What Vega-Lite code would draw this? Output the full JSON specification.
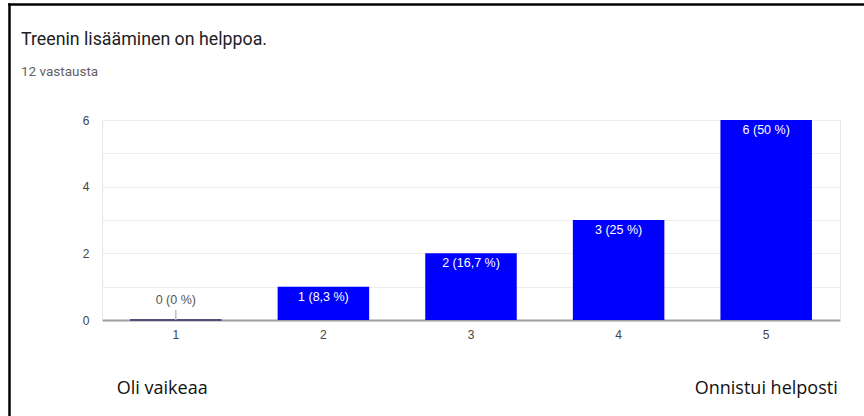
{
  "$schema": "https://vega.github.io/schema/vega-lite/v6.json",
  "width": 855,
  "height": 412,
  "autosize": {"type": "none"},
  "padding": {"left": 9, "top": 4, "right": 0, "bottom": 0},
  "background": "white",
  "view": {"stroke": null, "fill": "white"},
  "title": {
    "text": "Treenin lisääminen on helppoa.",
    "subtitle": "12 vastausta",
    "anchor": "start",
    "frame": "group",
    "offset": -77,
    "dx": 12,
    "font": "Roboto",
    "fontSize": 17.8,
    "fontWeight": "normal",
    "color": "#202124",
    "subtitleFont": "Roboto",
    "subtitleFontSize": 13.5,
    "subtitleColor": "#5f6368",
    "subtitlePadding": 16
  },
  "datasets": {
    "answers": [
      {"option": "1", "count": 0, "label": "0 (0 %)"},
      {"option": "2", "count": 1, "label": "1 (8,3 %)"},
      {"option": "3", "count": 2, "label": "2 (16,7 %)"},
      {"option": "4", "count": 3, "label": "3 (25 %)"},
      {"option": "5", "count": 6, "label": "6 (50 %)"}
    ],
    "notes": [
      {"option": "1", "note": "Oli vaikeaa"},
      {"option": "5", "note": "Onnistui helposti"}
    ]
  },
  "data": {"name": "answers"},
  "resolve": {"scale": {"x": "independent", "y": "independent"}, "axis": {"x": "independent", "y": "independent"}},
  "layer": [
    {
      "resolve": {"axis": {"y": "independent", "x": "independent"}},
      "layer": [
        {
          "mark": {"type": "bar", "color": "#0000ff", "strokeWidth": 2},
          "encoding": {
            "x": {
              "field": "option",
              "type": "nominal",
              "sort": null,
              "scale": {"range": [93, 831], "paddingInner": 0.38, "paddingOuter": 0.19},
              "axis": {
                "title": null,
                "orient": "bottom",
                "offset": -96,
                "labelAngle": 0,
                "ticks": false,
                "grid": false,
                "domainColor": "#9e9e9e",
                "domainWidth": 2,
                "labelPadding": 9,
                "labelFont": "Liberation Sans",
                "labelFontSize": 12,
                "labelColor": "#444444"
              }
            },
            "y": {
              "field": "count",
              "type": "quantitative",
              "scale": {"domain": [0, 6], "range": [316, 116], "nice": false},
              "axis": {
                "title": null,
                "orient": "left",
                "offset": -93,
                "values": [0, 1, 2, 3, 4, 5, 6],
                "labelExpr": "datum.value % 2 == 0 ? datum.label : ''",
                "ticks": false,
                "domain": true,
                "domainColor": "#e6e6e6",
                "domainWidth": 1,
                "grid": true,
                "gridColor": "#ededed",
                "gridWidth": 1,
                "labelPadding": 13,
                "labelFont": "Liberation Sans",
                "labelFontSize": 12,
                "labelColor": "#444444"
              }
            },
            "stroke": {"condition": {"test": "datum.count == 0", "value": "#50507a"}, "value": "transparent"}
          }
        },
        {
          "transform": [{"filter": "datum.count > 0"}],
          "mark": {"type": "text", "color": "white", "baseline": "middle", "dy": 10, "font": "Liberation Sans", "fontSize": 12.5},
          "encoding": {
            "x": {"field": "option", "type": "nominal", "sort": null, "axis": null},
            "y": {"field": "count", "type": "quantitative", "axis": null},
            "text": {"field": "label"}
          }
        },
        {
          "transform": [{"filter": "datum.count == 0"}],
          "mark": {"type": "text", "color": "#555555", "baseline": "middle", "dy": -20, "font": "Liberation Sans", "fontSize": 12.5},
          "encoding": {
            "x": {"field": "option", "type": "nominal", "sort": null, "axis": null},
            "y": {"field": "count", "type": "quantitative", "axis": null},
            "text": {"field": "label"}
          }
        },
        {
          "transform": [{"filter": "datum.count == 0"}],
          "mark": {"type": "rule", "color": "#bdbdbd", "strokeWidth": 1.5},
          "encoding": {
            "x": {"field": "option", "type": "nominal", "sort": null, "axis": null},
            "y": {
              "field": "count",
              "type": "quantitative",
              "axis": {"orient": "right", "offset": -24, "title": null, "labels": false, "ticks": false, "grid": false, "domainColor": "#e6e6e6", "domainWidth": 1}
            },
            "y2": {"datum": 0.3}
          }
        },
        {
          "data": {"name": "notes"},
          "transform": [{"filter": "datum.option == '1'"}],
          "mark": {"type": "text", "align": "left", "dx": -59, "baseline": "alphabetic", "font": "Open Sans", "fontSize": 18, "color": "#111111"},
          "encoding": {
            "x": {"field": "option", "type": "nominal", "sort": null, "axis": null},
            "y": {"datum": -2.22, "axis": null},
            "text": {"field": "note"}
          }
        },
        {
          "data": {"name": "notes"},
          "transform": [{"filter": "datum.option == '5'"}],
          "mark": {"type": "text", "align": "center", "baseline": "alphabetic", "font": "Open Sans", "fontSize": 18, "color": "#111111"},
          "encoding": {
            "x": {"field": "option", "type": "nominal", "sort": null, "axis": null},
            "y": {"datum": -2.22, "axis": null},
            "text": {"field": "note"}
          }
        }
      ]
    },
    {
      "mark": {"type": "point", "opacity": 0},
      "encoding": {
        "x": {
          "field": "option",
          "type": "nominal",
          "sort": null,
          "scale": {"range": [0, 855]},
          "axis": {"orient": "top", "offset": 0, "title": null, "labels": false, "ticks": false, "grid": false, "domainColor": "black", "domainWidth": 2.5, "domainCap": "square"}
        },
        "y": {
          "field": "count",
          "type": "quantitative",
          "scale": {"domain": [0, 6], "range": [412, 0], "nice": false},
          "axis": {"orient": "left", "offset": 0, "title": null, "labels": false, "ticks": false, "grid": false, "domainColor": "black", "domainWidth": 2.5, "domainCap": "square"}
        }
      }
    }
  ]
}
